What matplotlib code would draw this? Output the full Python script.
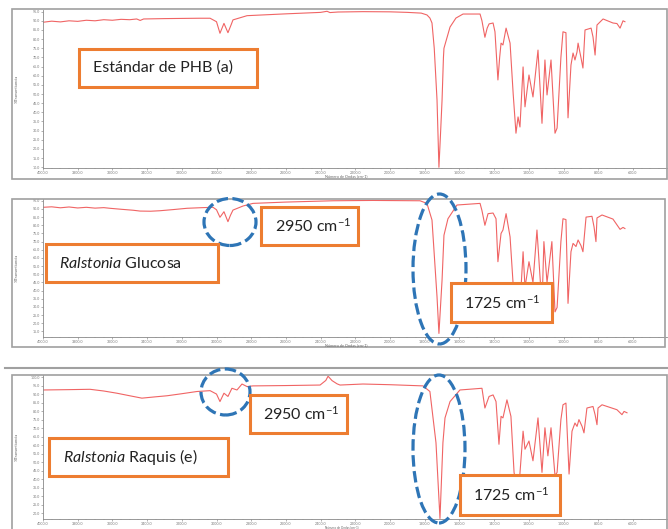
import numpy as np
import matplotlib
matplotlib.use("Agg")
import matplotlib.pyplot as plt
from matplotlib.patches import Rectangle, Ellipse
from matplotlib.ticker import MultipleLocator, FormatStrFormatter

plt.rcParams['font.family'] = ['Lato', 'DejaVu Sans']
plt.rcParams['mathtext.fontset'] = 'custom'
plt.rcParams['mathtext.rm'] = 'Lato'
plt.rcParams['mathtext.it'] = 'Lato:italic'

# spectra (wavenumber cm-1, %T)
wn_a = [4000, 3950, 3900, 3850, 3800, 3750, 3700, 3650, 3600, 3550, 3500, 3460, 3440, 3420,
        3300, 3200, 3100, 3037, 3000, 2980, 2957, 2934, 2915, 2905, 2824, 2600, 2400, 2363,
        2346, 2300, 2156, 2000, 1900, 1820, 1787, 1770, 1758, 1745, 1729, 1718, 1708, 1700,
        1692, 1689, 1680, 1654, 1620, 1579, 1481, 1470, 1453, 1440, 1429, 1406, 1395, 1378,
        1368, 1360, 1349, 1331, 1308, 1290, 1274, 1262, 1251, 1233, 1222, 1199, 1176, 1147,
        1124, 1107, 1095, 1072, 1049, 1037, 1015, 1003, 986, 974, 957, 945, 934, 922, 916,
        899, 888, 876, 841, 830, 818, 807, 772, 715, 692, 674, 657, 646]
t_a = [89.2, 89.8, 89.4, 90.0, 89.7, 90.3, 90.0, 90.6, 90.3, 90.8, 90.6, 91.0, 90.2, 91.0,
       91.2, 91.3, 91.4, 91.4, 89.5, 83.2, 88.6, 83.5, 88.0, 90.5, 92.8, 93.8, 94.6, 95.2,
       94.5, 94.8, 95.0, 94.9, 94.6, 94.2, 93.2, 91.5, 88.8, 75.0, 46.7, 10.0, 30.0, 46.7,
       70.0, 75.0, 78.0, 86.6, 91.5, 93.7, 93.7, 90.0, 81.0, 86.0, 88.3, 88.8, 84.0, 57.7,
       70.0, 77.8, 76.8, 86.0, 77.8, 50.0, 28.6, 37.5, 32.0, 64.8, 43.0, 60.4, 48.4, 74.0,
       34.0, 68.6, 49.5, 68.6, 28.6, 31.4, 70.0, 84.0, 83.5, 37.0, 65.8, 72.4, 68.6, 73.0, 77.8,
       69.7, 64.2, 85.0, 86.0, 81.2, 71.3, 87.7, 91.0, 88.8, 88.5, 86.0, 90.0, 89.5]

wn_b = [4000, 3950, 3900, 3850, 3800, 3750, 3700, 3650, 3614, 3550, 3480, 3441, 3380, 3326,
        3250, 3170, 3080, 3020, 3000, 2980, 2957, 2934, 2920, 2905, 2847, 2790, 2600, 2329,
        2100, 1827, 1787, 1758, 1729, 1718, 1700, 1689, 1666, 1614, 1481, 1470, 1453, 1435,
        1406, 1389, 1378, 1360, 1349, 1331, 1308, 1291, 1274, 1262, 1251, 1233, 1222, 1199,
        1176, 1153, 1124, 1113, 1095, 1067, 1049, 1037, 1015, 1003, 986, 974, 957, 945, 928,
        916, 899, 888, 870, 836, 824, 813, 807, 778, 715, 674, 657, 646]
t_b = [91.0, 91.3, 90.7, 91.2, 90.6, 91.0, 90.5, 90.8, 90.4, 89.8, 89.2, 88.7, 88.6, 88.9,
       89.6, 90.4, 90.8, 91.0, 89.5, 84.9, 88.3, 82.2, 86.0, 89.3, 91.8, 93.4, 94.2, 95.0,
       95.2, 95.0, 93.4, 83.2, 36.2, 13.8, 46.4, 73.9, 84.0, 92.4, 93.4, 89.0, 80.0, 87.1,
       87.5, 84.0, 57.7, 75.0, 77.1, 87.1, 72.9, 45.0, 26.0, 34.0, 30.0, 63.8, 42.0, 57.7,
       45.0, 77.1, 30.0, 70.0, 45.0, 70.0, 27.0, 29.7, 70.0, 84.0, 83.5, 32.2, 63.8, 68.9, 67.0,
       71.0, 67.5, 63.8, 85.0, 85.5, 79.0, 70.0, 84.5, 86.3, 83.8, 77.5, 78.7, 78.0]

wn_e = [4000, 3850, 3729, 3650, 3574, 3500, 3430, 3360, 3285, 3200, 3113, 3037, 3000, 2980,
        2957, 2934, 2911, 2882, 2853, 2824, 2790, 2600, 2403, 2370, 2357, 2334, 2305, 2288,
        2156, 2000, 1810, 1770, 1735, 1712, 1695, 1683, 1654, 1597, 1470, 1453, 1429, 1406,
        1389, 1372, 1360, 1349, 1326, 1303, 1285, 1270, 1255, 1233, 1222, 1199, 1176, 1147,
        1124, 1107, 1090, 1072, 1049, 1037, 1015, 1003, 986, 968, 951, 934, 922, 911, 893,
        882, 865, 830, 818, 807, 801, 778, 692, 663, 651, 634]
t_e = [92.4, 92.6, 92.8, 91.8, 90.5, 89.0, 87.6, 88.3, 89.0, 90.2, 91.5, 92.0, 90.0, 85.6,
       90.5, 88.6, 93.4, 92.4, 95.9, 94.4, 94.8, 95.0, 95.3, 98.0, 100.5, 97.9, 96.0, 95.3,
       95.9, 95.5, 94.8, 91.5, 61.4, 16.9, 61.4, 76.0, 85.6, 92.4, 93.4, 81.8, 88.6, 89.5,
       85.6, 60.5, 76.9, 76.0, 86.6, 76.9, 44.0, 35.0, 38.0, 68.2, 57.6, 62.4, 50.8, 76.0,
       44.0, 70.2, 53.7, 70.2, 42.0, 44.0, 75.0, 83.7, 84.7, 43.0, 68.2, 73.0, 71.0, 75.0, 71.0,
       67.2, 81.8, 82.7, 77.9, 72.0, 81.8, 83.7, 80.8, 77.9, 79.8, 79.0]

W, H = 668, 529
def fx(x):
    return x / W
def fy(y):
    return 1 - y / H

fig = plt.figure(figsize=(W / 100, H / 100), dpi=100)
fig.patch.set_facecolor('white')

red = '#f06464'
gray = '#a0a0a0'
orange = '#ed7d31'
blue = '#2e75b6'

# panel layout: (axes top px, axes bottom px, ylim, ytick range, x-label y px, x-label size)
panels = [
    (wn_a, t_a, 10, 168, (9.6, 95.9), np.arange(10, 96, 5), 176.5, 2.8),
    (wn_b, t_b, 199.3, 336.7, (11.8, 95.9), np.arange(15, 96, 5), 345, 2.8),
    (wn_e, t_e, 375, 519, (16.6, 101.2), np.arange(20, 101, 5), 527.9, 2.2),
]

for wn, t, top, bot, ylim, yt, xl_y, xl_fs in panels:
    ax = fig.add_axes([fx(43), fy(bot), (667 - 43) / W, (bot - top) / H])
    ax.plot(wn, t, color=red, lw=0.8)
    ax.set_xlim(4000, 403.5)
    ax.set_ylim(*ylim)
    ax.set_xticks(np.arange(4000, 599, -200))
    ax.xaxis.set_minor_locator(MultipleLocator(50))
    ax.set_yticks(yt)
    ax.xaxis.set_major_formatter(FormatStrFormatter('%.1f'))
    ax.yaxis.set_major_formatter(FormatStrFormatter('%.1f'))
    ax.tick_params(labelsize=2.6, colors='#777777', length=1.5, width=0.4, pad=0.6)
    ax.tick_params(which='minor', length=1, width=0.3, colors='#999999')
    for s in ['top', 'right']:
        ax.spines[s].set_visible(False)
    for s in ['left', 'bottom']:
        ax.spines[s].set_color('#888888')
        ax.spines[s].set_linewidth(0.6)
    fig.text(fx(17), fy((top + bot) / 2), '%Transmitancia', rotation=90,
             fontsize=3, color='#666666', ha='center', va='center')
    fig.text(fx(325), fy(xl_y), 'Número de Ondas (cm-1)', fontsize=xl_fs,
             color='#666666', ha='left', va='center')

# gray frames around each spectrum
frames = [(12, 9, 667, 179), (12, 199, 665, 347), (12, 375, 667, 540)]
for x0, y0, x1, y1 in frames:
    fig.patches.append(Rectangle((fx(x0), fy(y1)), (x1 - x0) / W, (y1 - y0) / H,
                                 transform=fig.transFigure, fill=False, ec=gray, lw=1.2))
fig.add_artist(plt.Line2D([fx(5), fx(667)], [fy(368), fy(368)], color=gray, lw=1.5,
                          transform=fig.transFigure))

# dashed blue ellipses
ellipses = [(230, 222, 52, 47), (439.5, 269, 53, 150), (225.5, 392, 49, 46), (439, 449, 52, 148)]
for cx, cy, w, h in ellipses:
    fig.patches.append(Ellipse((fx(cx), fy(cy)), w / W, h / H, transform=fig.transFigure,
                               fill=False, ec=blue, lw=2.3, ls=(0, (3.6, 1.4)), zorder=5))

# orange label boxes: (x0, y0, x1, y1, text x, text)
boxes = [
    (79, 49, 257, 87, 93, 'Estándar de PHB (a)'),
    (46, 244, 218, 282, 59, r'$\mathit{Ralstonia}$ Glucosa'),
    (261, 207, 358, 245, 275, r'2950 cm$^{\mathregular{-1}}$'),
    (451, 283, 552, 322, 464, r'1725 cm$^{\mathregular{-1}}$'),
    (49, 438, 228, 476, 63, r'$\mathit{Ralstonia}$ Raquis (e)'),
    (250, 395, 347, 433, 263, r'2950 cm$^{\mathregular{-1}}$'),
    (460, 475, 560, 515, 473, r'1725 cm$^{\mathregular{-1}}$'),
]
for x0, y0, x1, y1, tx, label in boxes:
    fig.patches.append(Rectangle((fx(x0), fy(y1)), (x1 - x0) / W, (y1 - y0) / H,
                                 transform=fig.transFigure, fc='white', ec=orange,
                                 lw=2.2, zorder=6))
    fig.text(fx(tx), fy((y0 + y1) / 2), label, fontsize=11.5, color='#222222',
             ha='left', va='center', zorder=7)

fig.savefig('out.png', dpi=100)
